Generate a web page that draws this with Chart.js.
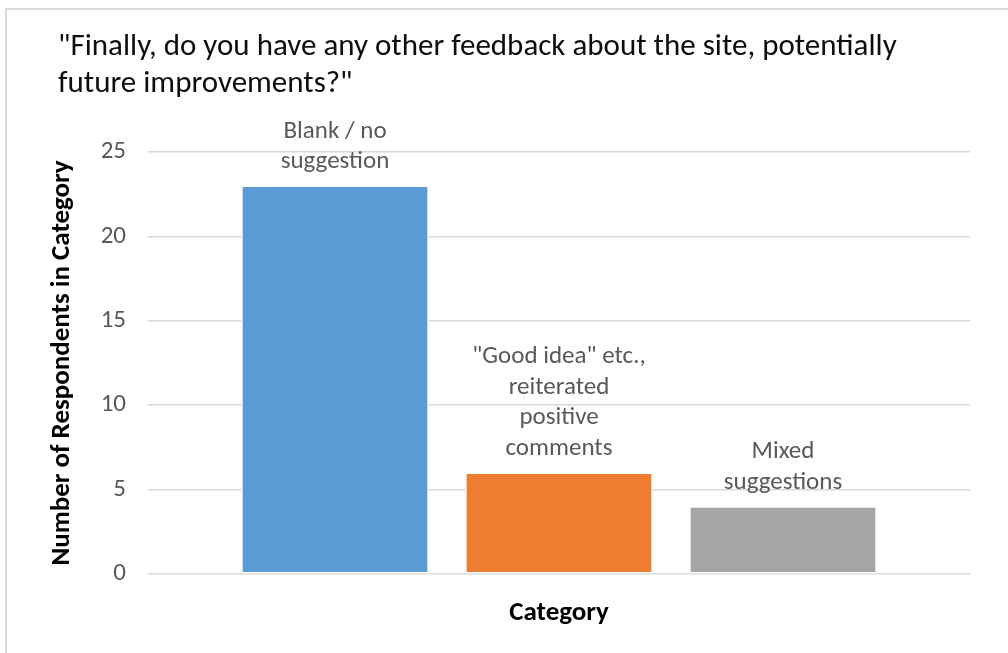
<!DOCTYPE html>
<html lang="en">
<head>
  <meta charset="UTF-8">
  <title>Feedback categories</title>
  <script src="https://cdn.jsdelivr.net/npm/chart.js"></script>
  <style>
    html, body {
      margin: 0;
      padding: 0;
      background: #ffffff;
      overflow: hidden;
    }

    .frame {
      position: absolute;
      left: 5px;
      top: 8px;
      width: 1010px;
      height: 650px;
      border-left: 2px solid #d9d9d9;
      border-top: 2px solid #d9d9d9;
    }

    .chart-box {
      position: absolute;
      left: 0;
      top: 0;
      width: 1008px;
      height: 653px;
    }
  </style>
</head>
<body>

  <div class="frame"></div>
  <div class="chart-box"><canvas id="feedbackChart"></canvas></div>

  <script>
    const titleLines = ['"Finally, do you have any other feedback about the site, potentially', 'future improvements?"'];
    const categories = [
      ['Blank / no', 'suggestion'],
      ['"Good idea" etc.,', 'reiterated', 'positive', 'comments'],
      ['Mixed', 'suggestions']
    ];
    const counts = [23, 6, 4];
    const barColors = ['#5b9bd5', '#ed7d31', '#a5a5a5'];
    const yTicks = [0, 5, 10, 15, 20, 25];

    const fontFamily = 'Calibri, Carlito, "Open Sans", sans-serif';

    // category names written above each bar, like the data labels in the original
    const barLabels = {
      id: 'barLabels',
      afterDatasetsDraw(chart) {
        const ctx = chart.ctx;
        const meta = chart.getDatasetMeta(0);
        ctx.save();
        ctx.font = '25px ' + fontFamily;
        ctx.fillStyle = '#595959';
        ctx.textAlign = 'center';
        ctx.textBaseline = 'middle';
        meta.data.forEach((bar, i) => {
          const lines = categories[i];
          const lineH = 30.5;
          const lastY = bar.y - 24;
          lines.forEach((line, j) => {
            ctx.fillText(line, bar.x, lastY - (lines.length - 1 - j) * lineH);
          });
        });
        ctx.restore();
      }
    };

    new Chart(document.getElementById('feedbackChart'), {
      type: 'bar',
      data: {
        datasets: [{
          label: 'Respondents',
          data: counts.map((c, i) => ({ x: i + 1, y: c })),
          backgroundColor: barColors,
          borderColor: '#ffffff',
          borderWidth: 1.5,
          borderSkipped: false,
          barThickness: 187
        }]
      },
      options: {
        responsive: true,
        maintainAspectRatio: false,
        animation: false,
        layout: { padding: { left: 58, right: 38, top: 0, bottom: 0 } },
        plugins: {
          legend: { display: false },
          tooltip: { enabled: false },
          title: {
            display: true,
            text: titleLines,
            align: 'start',
            color: '#0d0d0d',
            font: { family: fontFamily, size: 31, weight: 'normal', lineHeight: '37px' },
            padding: { top: 29, bottom: 49 }
          }
        },
        scales: {
          x: {
            type: 'linear',
            offset: false,
            min: 0.165,
            max: 3.835,
            grid: { display: false },
            border: { display: false },
            ticks: { display: false },
            title: {
              display: true,
              text: 'Category',
              color: '#000000',
              font: { family: fontFamily, size: 27, weight: 'bold' },
              padding: { top: 0, bottom: 24 }
            },
            afterFit(scale) { scale.height = 79; }
          },
          y: {
            min: 0,
            max: 25,
            afterBuildTicks(scale) { scale.ticks = yTicks.map(v => ({ value: v })); },
            grid: { color: '#d9d9d9', lineWidth: 1.5, drawTicks: false },
            border: { display: false },
            ticks: {
              color: '#595959',
              padding: 22,
              font: { family: fontFamily, size: 25 }
            },
            title: {
              display: true,
              text: 'Number of Respondents in Category',
              color: '#000000',
              font: { family: fontFamily, size: 27, weight: 'bold' },
              padding: { top: -12, bottom: 0 }
            },
            afterFit(scale) { scale.width = 90; }
          }
        }
      },
      plugins: [barLabels]
    });
  </script>

</body>
</html>
